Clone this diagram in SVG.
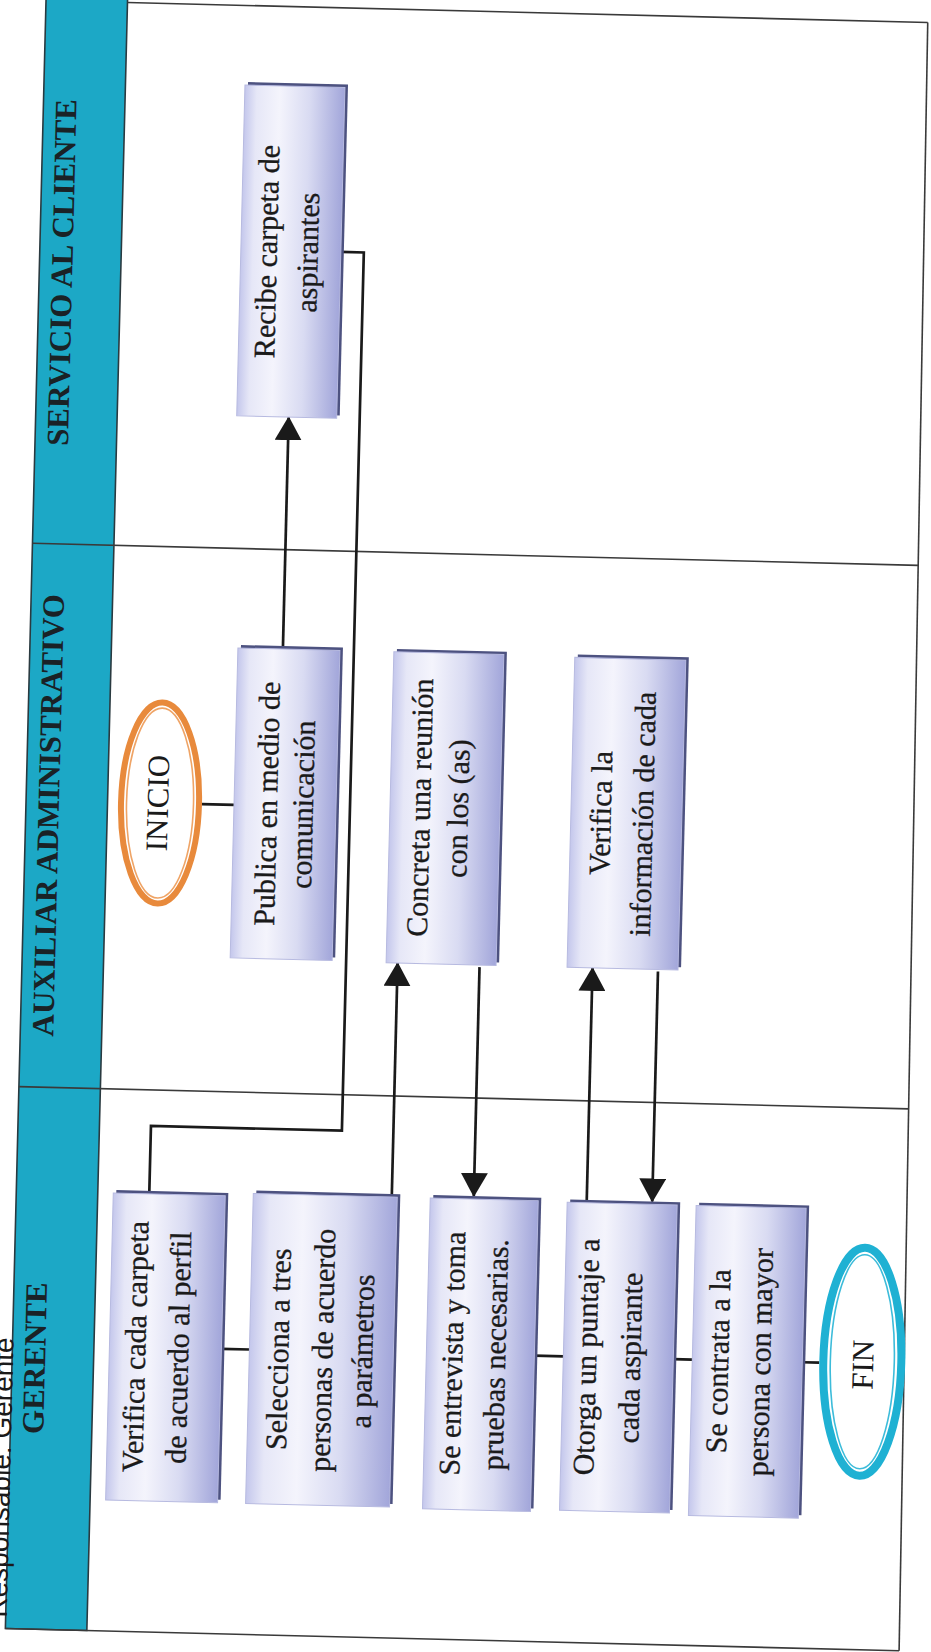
<svg xmlns="http://www.w3.org/2000/svg" width="931" height="1652" viewBox="0 0 931 1652">
  <defs>
    <linearGradient id="boxg" x1="0" y1="0" x2="1" y2="0">
      <stop offset="0" stop-color="#c4c7ec"/>
      <stop offset="0.12" stop-color="#e6e7f7"/>
      <stop offset="0.35" stop-color="#f4f4fc"/>
      <stop offset="0.65" stop-color="#d9dbf2"/>
      <stop offset="1" stop-color="#a2a6da"/>
    </linearGradient>
    <marker id="arr" markerUnits="userSpaceOnUse" markerWidth="24" markerHeight="27" viewBox="0 0 24 27" refX="23" refY="13.5" orient="auto">
      <path d="M0,0 L24,13.5 L0,27 Z" fill="#1a1a1a"/>
    </marker>
    <style>
      .frame { fill: none; stroke: #3a3a3a; stroke-width: 1.6; }
      .band { fill: #1ca8c6; stroke: #2a3a40; stroke-width: 1.6; }
      .lane { font-family: "Liberation Serif", "Times New Roman", serif; font-weight: bold; font-size: 31px; fill: #1a2226; text-anchor: middle; }
      .sh { fill: #4d5280; }
      .bx { fill: url(#boxg); stroke: #b7bae0; stroke-width: 1; }
      .t { font-family: "Liberation Serif", "Times New Roman", serif; font-size: 30px; fill: #1a1a1a; stroke: #1a1a1a; stroke-width: 0.3; text-anchor: middle; }
      .term { font-family: "Liberation Serif", "Times New Roman", serif; font-size: 31px; fill: #1a1a1a; text-anchor: middle; }
      .conn { fill: none; stroke: #1a1a1a; stroke-width: 2.7; }
      .arrow { marker-end: url(#arr); }
      .resp { font-family: "Liberation Sans", Arial, sans-serif; font-size: 28px; fill: #1a1a1a; text-anchor: end; }
    </style>
  </defs>
  <rect x="0" y="0" width="931" height="1652" fill="#ffffff"/>
  <g transform="rotate(1.43 127 2)">
    <g id="frame">
      <rect class="band" x="46" y="-12" width="81.5" height="1643"/>
      <line class="frame" x1="127.5" y1="2.5" x2="928" y2="2.5"/>
      <line class="frame" x1="928" y1="2.5" x2="940" y2="1631"/>
      <line class="frame" x1="46" y1="1631" x2="940" y2="1631"/>
      <line class="frame" x1="46" y1="545.5" x2="932" y2="545.5"/>
      <line class="frame" x1="46" y1="1089" x2="936" y2="1089"/>
      <text class="resp" transform="translate(47 1340) rotate(-90)">Responsable: Gerente</text>
    </g>
    <g id="lane-servicio"><text class="lane" transform="translate(79 274) rotate(-90)">SERVICIO AL CLIENTE</text></g>
    <g id="lane-auxiliar"><text class="lane" transform="translate(79 817) rotate(-90)">AUXILIAR ADMINISTRATIVO</text></g>
    <g id="lane-gerente"><text class="lane" transform="translate(79 1360) rotate(-90)">GERENTE</text></g>

    <g id="connectors">
      <path class="conn" d="M222,802 H254"/>
      <path class="conn arrow" d="M299,645 V413"/>
      <path class="conn" d="M347,246.5 H370 V1125 H179 V1193"/>
      <path class="conn arrow" d="M421.5,1190 V956"/>
      <path class="conn arrow" d="M503.5,958 V1187"/>
      <path class="conn arrow" d="M616.5,1191 V956"/>
      <path class="conn arrow" d="M682,958 V1188"/>
      <path class="conn" d="M255,1346 H283"/>
      <path class="conn" d="M568,1345 H597"/>
      <path class="conn" d="M707,1345 H726"/>
      <path class="conn" d="M836,1345 H853"/>
    </g>

    <g id="n-recibe">
      <rect class="sh" x="250" y="79" width="100" height="331"/>
      <rect class="bx" x="247" y="82" width="100" height="331"/>
      <text class="t" transform="translate(283 248) rotate(-90)"><tspan x="0" y="0">Recibe carpeta de</tspan><tspan x="0" dy="41">aspirantes</tspan></text>
    </g>
    <g id="n-inicio">
      <ellipse cx="180" cy="802" rx="39" ry="100.5" fill="#ffffff" stroke="#e88a3c" stroke-width="6"/>
      <ellipse cx="180" cy="802" rx="33.5" ry="95" fill="none" stroke="#efa466" stroke-width="1.6"/>
      <text class="term" transform="translate(188 802) rotate(-90)">INICIO</text>
    </g>
    <g id="n-publica">
      <rect class="sh" x="257" y="642" width="102" height="310"/>
      <rect class="bx" x="254" y="645" width="102" height="310"/>
      <text class="t" transform="translate(297 800) rotate(-90)"><tspan x="0" y="0">Publica en medio de</tspan><tspan x="0" dy="36">comunicación</tspan></text>
    </g>
    <g id="n-concreta">
      <rect class="sh" x="413" y="642" width="110" height="311"/>
      <rect class="bx" x="410" y="645" width="110" height="311"/>
      <text class="t" transform="translate(450 800) rotate(-90)"><tspan x="0" y="0">Concreta una reunión</tspan><tspan x="0" dy="38">con los (as)</tspan></text>
    </g>
    <g id="n-verifica-info">
      <rect class="sh" x="594" y="643" width="111" height="310"/>
      <rect class="bx" x="591" y="646" width="111" height="310"/>
      <text class="t" transform="translate(631 801) rotate(-90)"><tspan x="0" y="0">Verifica la</tspan><tspan x="0" dy="42">información de cada</tspan></text>
    </g>
    <g id="n-verifica-carpeta">
      <rect class="sh" x="146" y="1190" width="112" height="307"/>
      <rect class="bx" x="143" y="1193" width="112" height="307"/>
      <text class="t" transform="translate(179 1346) rotate(-90)"><tspan x="0" y="0">Verifica cada carpeta</tspan><tspan x="0" dy="43">de acuerdo al perfil</tspan></text>
    </g>
    <g id="n-selecciona">
      <rect class="sh" x="286" y="1187" width="144" height="310"/>
      <rect class="bx" x="283" y="1190" width="144" height="310"/>
      <text class="t" transform="translate(322 1345) rotate(-90)"><tspan x="0" y="0">Selecciona a tres</tspan><tspan x="0" dy="44">personas de acuerdo</tspan><tspan x="0" dy="40">a parámetros</tspan></text>
    </g>
    <g id="n-entrevista">
      <rect class="sh" x="463" y="1187" width="108" height="311"/>
      <rect class="bx" x="460" y="1190" width="108" height="311"/>
      <text class="t" transform="translate(496 1345) rotate(-90)"><tspan x="0" y="0">Se entrevista y toma</tspan><tspan x="0" dy="43">pruebas necesarias.</tspan></text>
    </g>
    <g id="n-otorga">
      <rect class="sh" x="600" y="1188" width="110" height="308"/>
      <rect class="bx" x="597" y="1191" width="110" height="308"/>
      <text class="t" transform="translate(630 1345) rotate(-90)"><tspan x="0" y="0">Otorga un puntaje a</tspan><tspan x="0" dy="44">cada aspirante</tspan></text>
    </g>
    <g id="n-contrata">
      <rect class="sh" x="729" y="1188" width="110" height="310"/>
      <rect class="bx" x="726" y="1191" width="110" height="310"/>
      <text class="t" transform="translate(762 1346) rotate(-90)"><tspan x="0" y="0">Se contrata a la</tspan><tspan x="0" dy="42">persona con mayor</tspan></text>
    </g>
    <g id="n-fin">
      <ellipse cx="896" cy="1343" rx="39" ry="114" fill="#ffffff" stroke="#1fb1d3" stroke-width="8"/>
      <ellipse cx="896" cy="1343" rx="32" ry="107" fill="none" stroke="#3dbcda" stroke-width="1.6"/>
      <text class="term" transform="translate(907 1346) rotate(-90)">FIN</text>
    </g>
  </g>
</svg>
